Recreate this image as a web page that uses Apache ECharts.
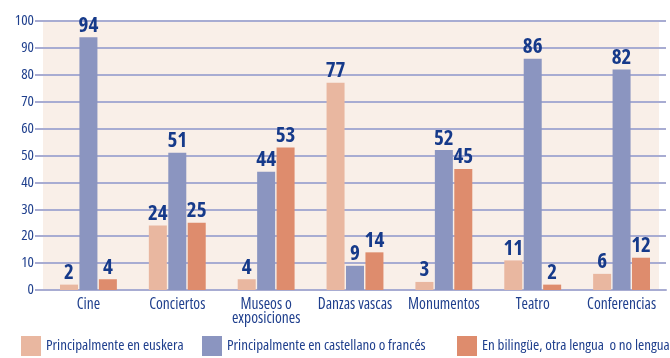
<!DOCTYPE html>
<html>
<head>
<meta charset="utf-8">
<script src="https://cdn.jsdelivr.net/npm/echarts@6/dist/echarts.min.js"></script>
<style>
  html, body { margin: 0; padding: 0; background: #ffffff; }
  #chart { width: 670px; height: 358px; }
</style>
</head>
<body>
<div id="chart"></div>
<script>
// Activities and share of attendance by language (%)
const categories = ['Cine', 'Conciertos', 'Museos o\nexposiciones', 'Danzas vascas', 'Monumentos', 'Teatro', 'Conferencias'];
const seriesNames = ['Principalmente en euskera', 'Principalmente en castellano o francés', 'En bilingüe, otra lengua  o no lengua'];
const euskera = [2, 24, 4, 77, 3, 11, 6];
const castellano = [94, 51, 44, 9, 52, 86, 82];
const bilingue = [4, 25, 53, 14, 45, 2, 12];
const yTicks = [0, 10, 20, 30, 40, 50, 60, 70, 80, 90, 100];

const colors = ['#e9b7a0', '#8b95c0', '#de8c6d'];
const textBlue = '#1f3f8d';
const labelBlue = '#163a8a';
const gridColor = '#a8acd2';
// narrow face: the width keyword rides along in the canvas font shorthand
const font = '"Open Sans", sans-serif';
const wNormal = 'normal condensed';
const wBold = 'bold condensed';

const chart = echarts.init(document.getElementById('chart'), null, { renderer: 'canvas' });

const seriesData = [euskera, castellano, bilingue];
const series = seriesData.map((vals, i) => ({
  name: seriesNames[i],
  type: 'bar',
  data: vals,
  barWidth: 18,
  barGap: '8%',
  itemStyle: { color: colors[i] },
  label: {
    show: true,
    position: 'top',
    distance: 1,
    color: labelBlue,
    fontFamily: font,
    fontWeight: wBold,
    fontSize: 21
  }
}));

const legendStarts = [21, 202, 457];
const legends = seriesNames.map((n, i) => ({
  data: [n],
  left: legendStarts[i],
  top: 336,
  itemWidth: 20,
  itemHeight: 20,
  icon: 'rect',
  padding: 0,
  selectedMode: false,
  textStyle: { color: textBlue, fontFamily: font, fontWeight: wNormal, fontSize: 15 }
}));

chart.setOption({
  animation: false,
  backgroundColor: '#ffffff',
  graphic: [{
    type: 'rect',
    z: -10,
    shape: { x: 43, y: 21, width: 616, height: 269 },
    style: { fill: '#f9efe8' },
    silent: true
  }],
  legend: legends,
  grid: { left: 44, top: 21, width: 622, height: 269 },
  xAxis: {
    type: 'category',
    data: categories,
    axisLine: { lineStyle: { color: gridColor, width: 2 } },
    axisTick: { show: false },
    axisLabel: {
      color: textBlue,
      fontFamily: font,
      fontWeight: wNormal,
      fontSize: 15.5,
      lineHeight: 14,
      margin: 8,
      interval: 0
    }
  },
  yAxis: {
    type: 'value',
    min: yTicks[0],
    max: yTicks[yTicks.length - 1],
    interval: 10,
    axisLine: { show: false },
    axisTick: { show: true, length: 9, lineStyle: { color: gridColor, width: 2 } },
    splitLine: { lineStyle: { color: gridColor, width: 2 } },
    axisLabel: {
      color: textBlue,
      fontFamily: font,
      fontWeight: wNormal,
      fontSize: 15,
      margin: 10
    }
  },
  series: series
});
</script>
</body>
</html>
